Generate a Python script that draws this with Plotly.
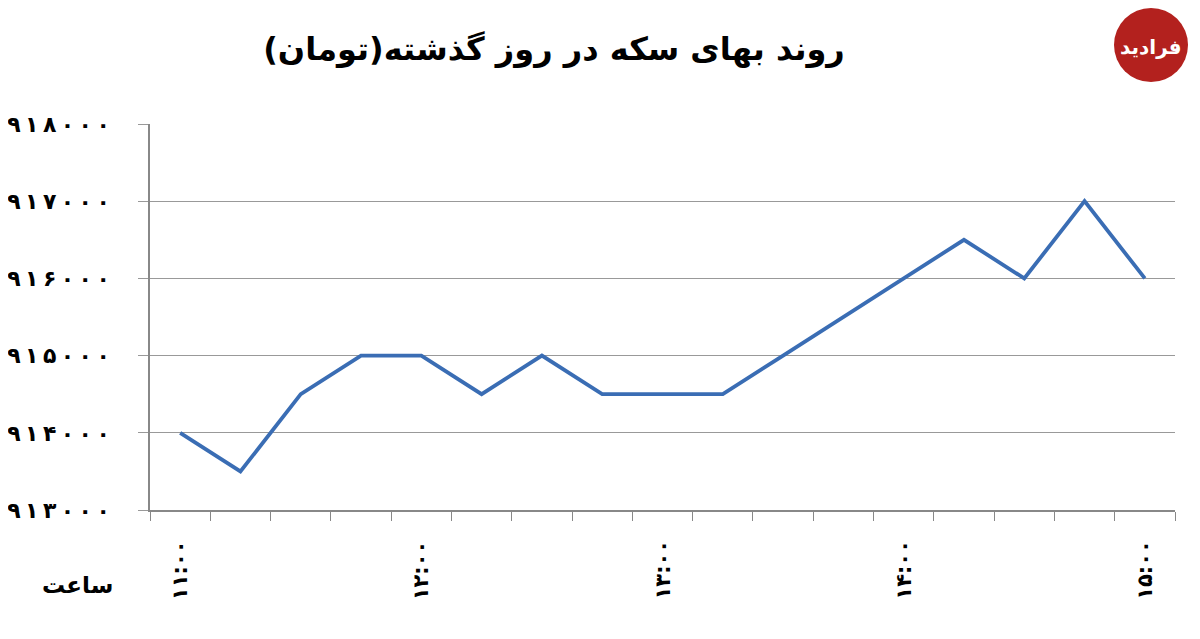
import plotly.graph_objects as go

# Data
times = ["11:00", "11:15", "11:30", "11:45", "12:00", "12:15", "12:30", "12:45",
         "13:00", "13:15", "13:30", "13:45", "14:00", "14:15", "14:30", "14:45", "15:00"]
prices = [914000, 913500, 914500, 915000, 915000, 914500, 915000, 914500,
          914500, 914500, 915000, 915500, 916000, 916500, 916000, 917000, 916000]
y_ticks = [913000, 914000, 915000, 916000, 917000, 918000]
hour_labels = ["11:00", "12:00", "13:00", "14:00", "15:00"]
title_text = "روند بهای سکه در روز گذشته(تومان)"
x_title = "ساعت"
logo_text = "فرادید"

FA = str.maketrans("0123456789", "۰۱۲۳۴۵۶۷۸۹")
def fa(s):
    return str(s).translate(FA)

def spaced(s):
    return "\u2009".join(fa(s))

xs = list(range(len(times)))
FONT = "DejaVu Sans"

# page body has an 8px margin; layout computed in screen px
OFF = 8
L, R, T, B = 150, 1175, 124, 510
W, H = 1200, 639

def px(X):
    return (X - L) / (R - L)

def py(Y):
    return (B - Y) / (B - T)

fig = go.Figure()
fig.add_trace(go.Scatter(x=xs, y=prices, mode="lines",
                         line=dict(color="#3A6DB4", width=3.8), hoverinfo="skip"))

boundaries = [i - 0.5 for i in range(len(times) + 1)]

fig.update_layout(
    width=W, height=H,
    margin=dict(l=L - OFF, r=W - (R - OFF), t=T - OFF, b=H - (B - OFF), autoexpand=False),
    paper_bgcolor="white", plot_bgcolor="white",
    showlegend=False,
    font=dict(family=FONT, color="black"),
    title=dict(text="<b>" + title_text + "</b>", x=(554 - OFF) / W, xanchor="center",
               y=1 - (49 - OFF) / H, yanchor="middle",
               font=dict(family=FONT, size=32, color="black")),
    xaxis=dict(range=[-0.5, len(times) - 0.5], tickvals=boundaries,
               ticktext=[""] * len(boundaries), ticks="outside", ticklen=9,
               tickcolor="#888", showgrid=False, showline=True, linecolor="#888",
               linewidth=1.5, zeroline=False, fixedrange=True, automargin=False),
    yaxis=dict(range=[913000, 918000], tickvals=y_ticks,
               ticktext=["<b>" + spaced(v) + "</b>" for v in y_ticks], ticks="outside", ticklen=10,
               tickcolor="#999", showgrid=True, gridcolor="#999", gridwidth=1,
               showline=True, linecolor="#888", linewidth=1.5, zeroline=False,
               ticklabelstandoff=24, automargin=False,
               tickfont=dict(family=FONT, size=22, color="black")),
)

for h in hour_labels:
    idx = times.index(h)
    fig.add_annotation(x=idx, y=py(538), xref="x", yref="paper", text="<b>" + fa(h) + "</b>",
                       textangle=-90, showarrow=False, xanchor="center", yanchor="top",
                       font=dict(family=FONT, size=21, color="black"))

fig.add_annotation(x=px(77), y=py(585), xref="paper", yref="paper", text="<b>" + x_title + "</b>",
                   showarrow=False, xanchor="center", yanchor="middle",
                   font=dict(family=FONT, size=23, color="black"))

# logo
fig.add_shape(type="circle", xref="paper", yref="paper",
              xsizemode="pixel", ysizemode="pixel",
              xanchor=px(1151), yanchor=py(45),
              x0=-37, x1=37, y0=-37, y1=37,
              fillcolor="#B3211E", line=dict(width=0))
fig.add_annotation(x=px(1151), y=py(47), xref="paper", yref="paper",
                   text="<b>" + logo_text + "</b>", showarrow=False,
                   xanchor="center", yanchor="middle",
                   font=dict(family=FONT, size=20, color="white"))

fig.write_html("out.html")
